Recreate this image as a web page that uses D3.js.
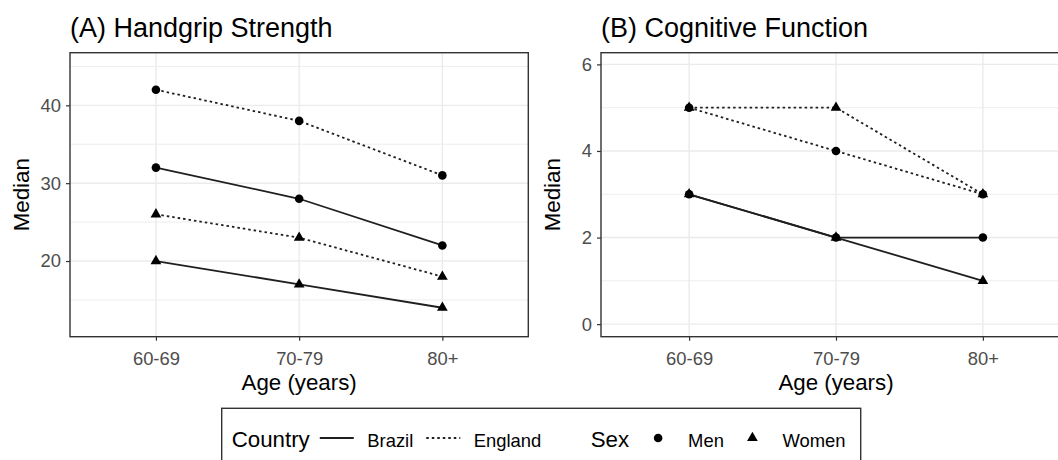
<!DOCTYPE html>
<html>
<head>
<meta charset="utf-8">
<script src="https://cdn.jsdelivr.net/npm/d3@7"></script>
<style>
  html, body { margin: 0; padding: 0; background: #ffffff; }
  svg { display: block; font-family: "Liberation Sans", Arial, sans-serif; }
</style>
</head>
<body>
<svg id="chart" width="1058" height="460"></svg>
<script>
// Age groups on the x axis
const ageGroups = ["60-69", "70-79", "80+"];
const countries = ["Brazil", "England"];
const sexes = ["Men", "Women"];

// (A) Handgrip strength medians by age group
const handgripBrazilMen = [32, 28, 22];
const handgripBrazilWomen = [20, 17, 14];
const handgripEnglandMen = [42, 38, 31];
const handgripEnglandWomen = [26, 23, 18];

// (B) Cognitive function medians by age group
const cognitiveBrazilMen = [3, 2, 2];
const cognitiveBrazilWomen = [3, 2, 1];
const cognitiveEnglandMen = [5, 4, 3];
const cognitiveEnglandWomen = [5, 5, 3];

// Axis ticks
const handgripTicks = [20, 30, 40];
const handgripMinorTicks = [15, 25, 35, 45];
const cognitiveTicks = [0, 2, 4, 6];
const cognitiveMinorTicks = [1, 3, 5];

const svg = d3.select("#chart");
const INK = "#333333";
const GRID = "#ebebeb";
const TICK_TEXT = "#4d4d4d";
const LINE = "#1f1f1f";
const LINE_W = 1.8;
const dashFor = { Brazil: null, England: "2.5,3" };
const FONT = "Liberation Sans, Arial, sans-serif";

function seriesOf(bm, bw, em, ew) {
  return [
    { country: "Brazil", sex: "Men", values: bm },
    { country: "Brazil", sex: "Women", values: bw },
    { country: "England", sex: "Men", values: em },
    { country: "England", sex: "Women", values: ew }
  ];
}

function drawPoint(g, sex, x, y) {
  if (sex === "Men") {
    g.append("circle").attr("cx", x).attr("cy", y).attr("r", 4.3).attr("fill", "#000");
  } else {
    g.append("path")
      .attr("d", d3.symbol().type(d3.symbolTriangle).size(50)())
      .attr("transform", `translate(${x},${y})`)
      .attr("fill", "#000");
  }
}

function panel(opts) {
  const { left, right, top, bottom, domain, ticks, minor, title, series } = opts;
  const g = svg.append("g");
  const x = d3.scalePoint().domain(ageGroups).range([left, right]).padding(0.6);
  const y = d3.scaleLinear().domain(domain).range([bottom, top]);

  // grid
  const grid = g.append("g");
  grid.selectAll(".minor").data(minor).join("line")
    .attr("x1", left).attr("x2", right)
    .attr("y1", d => y(d)).attr("y2", d => y(d))
    .attr("stroke", GRID).attr("stroke-width", 0.9);
  grid.selectAll(".majorY").data(ticks).join("line")
    .attr("x1", left).attr("x2", right)
    .attr("y1", d => y(d)).attr("y2", d => y(d))
    .attr("stroke", GRID).attr("stroke-width", 1.4);
  grid.selectAll(".majorX").data(ageGroups).join("line")
    .attr("x1", d => x(d)).attr("x2", d => x(d))
    .attr("y1", top).attr("y2", bottom)
    .attr("stroke", GRID).attr("stroke-width", 1.4);

  // series lines then points
  const line = d3.line().x((d, i) => x(ageGroups[i])).y(d => y(d));
  series.forEach(s => {
    g.append("path").attr("d", line(s.values))
      .attr("fill", "none").attr("stroke", LINE).attr("stroke-width", LINE_W)
      .attr("stroke-dasharray", dashFor[s.country]);
  });
  series.forEach(s => {
    s.values.forEach((v, i) => drawPoint(g, s.sex, x(ageGroups[i]), y(v)));
  });

  // panel border
  g.append("rect").attr("x", left).attr("y", top)
    .attr("width", right - left).attr("height", bottom - top)
    .attr("fill", "none").attr("stroke", INK).attr("stroke-width", 1.4);

  // y axis
  const yAxis = g.append("g").attr("transform", `translate(${left},0)`)
    .call(d3.axisLeft(y).tickValues(ticks).tickSize(4).tickPadding(5).tickFormat(d3.format("d")));
  yAxis.select(".domain").remove();
  yAxis.selectAll(".tick line").attr("stroke", INK).attr("stroke-width", 1.2);
  yAxis.selectAll(".tick text").attr("fill", TICK_TEXT)
    .style("font-size", "18.4px").style("font-family", FONT);

  // x axis
  const xAxis = g.append("g").attr("transform", `translate(0,${bottom})`)
    .call(d3.axisBottom(x).tickSize(4).tickPadding(5));
  xAxis.select(".domain").remove();
  xAxis.selectAll(".tick line").attr("stroke", INK).attr("stroke-width", 1.2);
  xAxis.selectAll(".tick text").attr("fill", TICK_TEXT).attr("dy", null).attr("y", 28.5)
    .style("font-size", "18.4px").style("font-family", FONT);

  // titles
  g.append("text").attr("x", left).attr("y", 37)
    .style("font-size", "27px").attr("fill", "#000").text(title);
  g.append("text").attr("x", (left + right) / 2).attr("y", 390)
    .attr("text-anchor", "middle").style("font-size", "22.3px").attr("fill", "#000")
    .text("Age (years)");
  g.append("text")
    .attr("transform", `translate(${left - 41},${(top + bottom) / 2}) rotate(-90)`)
    .attr("text-anchor", "middle").style("font-size", "22.3px").attr("fill", "#000")
    .text("Median");
}

panel({
  left: 70, right: 528.3, top: 52.7, bottom: 336.7,
  domain: [10.28, 46.76], ticks: handgripTicks, minor: handgripMinorTicks,
  title: "(A) Handgrip Strength",
  series: seriesOf(handgripBrazilMen, handgripBrazilWomen, handgripEnglandMen, handgripEnglandWomen)
});

panel({
  left: 601, right: 1071, top: 52.7, bottom: 336.7,
  domain: [-0.29, 6.27], ticks: cognitiveTicks, minor: cognitiveMinorTicks,
  title: "(B) Cognitive Function",
  series: seriesOf(cognitiveBrazilMen, cognitiveBrazilWomen, cognitiveEnglandMen, cognitiveEnglandWomen)
});

// legend: two groups (line type by country, point shape by sex)
const legend = svg.append("g");
legend.append("rect").attr("x", 221.7).attr("y", 408.3)
  .attr("width", 639).attr("height", 70)
  .attr("fill", "#fff").attr("stroke", INK).attr("stroke-width", 1.4);

const keyY = 438;
const KEY = 34;
let cx;
function legendText(txt, size, baseline) {
  const t = legend.append("text").attr("x", cx).attr("y", baseline)
    .style("font-size", size + "px").attr("fill", "#000").text(txt);
  cx += t.node().getComputedTextLength();
}

// Country group
cx = 231.7;
legendText("Country", 22.3, 447);
cx += 10;
countries.forEach(c => {
  legend.append("line").attr("x1", cx).attr("x2", cx + KEY).attr("y1", keyY).attr("y2", keyY)
    .attr("stroke", LINE).attr("stroke-width", LINE_W).attr("stroke-dasharray", dashFor[c]);
  cx += KEY + 13.5;
  legendText(c, 18.4, 446.5);
  cx += 13;
});

// Sex group
cx = 590.7;
legendText("Sex", 22.3, 447);
cx += 12;
sexes.forEach(s => {
  drawPoint(legend, s, cx + KEY / 2, keyY);
  cx += KEY + 13;
  legendText(s, 18.4, 446.5);
  cx += 11.5;
});
</script>
</body>
</html>
